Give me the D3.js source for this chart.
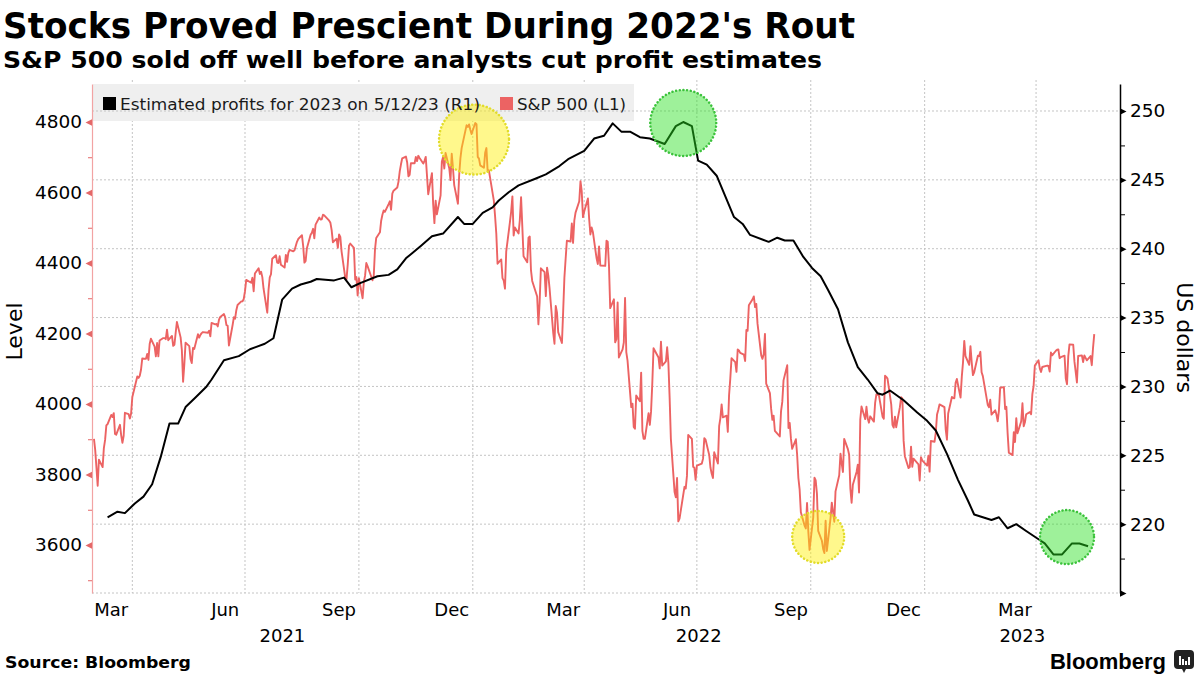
<!DOCTYPE html>
<html><head><meta charset="utf-8">
<script src="https://cdn.jsdelivr.net/npm/d3@7"></script>
<style>body{margin:0;background:#fff}svg{display:block}</style>
</head><body><svg id="chart" width="1200" height="675"></svg>
<script>
const titleText = "Stocks Proved Prescient During 2022's Rout";
const subtitleText = "S&P 500 sold off well before analysts cut profit estimates";
const sourceText = "Source: Bloomberg";
const seriesNames = ["Estimated profits for 2023 on 5/12/23 (R1)", "S&P 500 (L1)"];
const leftAxisTitle = "Level";
const rightAxisTitle = "US dollars";
const leftTicks = [3600, 3800, 4000, 4200, 4400, 4600, 4800];
const leftMinorTicks = [3500, 3700, 3900, 4100, 4300, 4500, 4700];
const rightTicks = [215, 220, 225, 230, 235, 240, 245, 250];
const rightMinorTicks = [217.5, 222.5, 227.5, 232.5, 237.5, 242.5, 247.5];
const monthTickDates = ["2021-03-15","2021-06-15","2021-09-15","2021-12-15","2022-03-15","2022-06-15","2022-09-15","2022-12-15","2023-03-15"];
const monthLabels = ["Mar","Jun","Sep","Dec","Mar","Jun","Sep","Dec","Mar"];
const yearLabels = ["2021","2022","2023"];

// S&P 500 (left axis)
const spx = [
["2021-03-01",3901],["2021-03-02",3870],["2021-03-03",3820],["2021-03-04",3768],["2021-03-05",3842],["2021-03-08",3821],["2021-03-09",3875],["2021-03-10",3898],["2021-03-11",3939],["2021-03-12",3943],["2021-03-15",3969],["2021-03-16",3963],["2021-03-17",3974],["2021-03-18",3915],["2021-03-19",3913],["2021-03-22",3941],["2021-03-23",3911],["2021-03-24",3890],["2021-03-25",3910],["2021-03-26",3975],["2021-03-29",3971],["2021-03-30",3959],["2021-03-31",3973],
["2021-04-01",4020],["2021-04-05",4078],["2021-04-06",4074],["2021-04-07",4080],["2021-04-08",4097],["2021-04-09",4129],["2021-04-12",4128],["2021-04-13",4142],["2021-04-14",4125],["2021-04-15",4170],["2021-04-16",4185],["2021-04-19",4163],["2021-04-20",4135],["2021-04-21",4173],["2021-04-22",4135],["2021-04-23",4180],["2021-04-26",4187],["2021-04-27",4187],["2021-04-28",4184],["2021-04-29",4211],["2021-04-30",4181],
["2021-05-03",4193],["2021-05-04",4165],["2021-05-05",4168],["2021-05-06",4202],["2021-05-07",4233],["2021-05-10",4189],["2021-05-11",4153],["2021-05-12",4063],["2021-05-13",4113],["2021-05-14",4174],["2021-05-17",4164],["2021-05-18",4128],["2021-05-19",4116],["2021-05-20",4159],["2021-05-21",4156],["2021-05-24",4198],["2021-05-25",4188],["2021-05-26",4196],["2021-05-27",4201],["2021-05-28",4204],
["2021-06-01",4202],["2021-06-02",4208],["2021-06-03",4192],["2021-06-04",4230],["2021-06-07",4226],["2021-06-08",4227],["2021-06-09",4220],["2021-06-10",4239],["2021-06-11",4247],["2021-06-14",4255],["2021-06-15",4246],["2021-06-16",4224],["2021-06-17",4222],["2021-06-18",4166],["2021-06-21",4224],["2021-06-22",4246],["2021-06-23",4242],["2021-06-24",4266],["2021-06-25",4281],["2021-06-28",4291],["2021-06-29",4291],["2021-06-30",4298],
["2021-07-01",4320],["2021-07-02",4352],["2021-07-06",4344],["2021-07-07",4358],["2021-07-08",4320],["2021-07-09",4370],["2021-07-12",4385],["2021-07-13",4369],["2021-07-14",4375],["2021-07-15",4360],["2021-07-16",4327],["2021-07-19",4259],["2021-07-20",4323],["2021-07-21",4359],["2021-07-22",4368],["2021-07-23",4412],["2021-07-26",4422],["2021-07-27",4401],["2021-07-28",4400],["2021-07-29",4419],["2021-07-30",4395],
["2021-08-02",4387],["2021-08-03",4423],["2021-08-04",4403],["2021-08-05",4429],["2021-08-06",4437],["2021-08-09",4433],["2021-08-10",4436],["2021-08-11",4448],["2021-08-12",4460],["2021-08-13",4468],["2021-08-16",4479],["2021-08-17",4448],["2021-08-18",4401],["2021-08-19",4406],["2021-08-20",4442],["2021-08-23",4480],["2021-08-24",4486],["2021-08-25",4497],["2021-08-26",4470],["2021-08-27",4509],["2021-08-30",4529],["2021-08-31",4523],
["2021-09-01",4524],["2021-09-02",4537],["2021-09-03",4535],["2021-09-07",4520],["2021-09-08",4514],["2021-09-09",4493],["2021-09-10",4459],["2021-09-13",4469],["2021-09-14",4443],["2021-09-15",4481],["2021-09-16",4474],["2021-09-17",4433],["2021-09-20",4358],["2021-09-21",4354],["2021-09-22",4396],["2021-09-23",4449],["2021-09-24",4455],["2021-09-27",4443],["2021-09-28",4353],["2021-09-29",4360],["2021-09-30",4308],
["2021-10-01",4357],["2021-10-04",4300],["2021-10-05",4346],["2021-10-06",4364],["2021-10-07",4400],["2021-10-08",4391],["2021-10-11",4361],["2021-10-12",4351],["2021-10-13",4364],["2021-10-14",4438],["2021-10-15",4471],["2021-10-18",4487],["2021-10-19",4520],["2021-10-20",4537],["2021-10-21",4549],["2021-10-22",4545],["2021-10-25",4567],["2021-10-26",4575],["2021-10-27",4551],["2021-10-28",4597],["2021-10-29",4605],
["2021-11-01",4614],["2021-11-02",4631],["2021-11-03",4660],["2021-11-04",4680],["2021-11-05",4697],["2021-11-08",4702],["2021-11-09",4685],["2021-11-10",4646],["2021-11-11",4650],["2021-11-12",4683],["2021-11-15",4683],["2021-11-16",4701],["2021-11-17",4689],["2021-11-18",4704],["2021-11-19",4698],["2021-11-22",4682],["2021-11-23",4690],["2021-11-24",4701],["2021-11-26",4595],["2021-11-29",4655],["2021-11-30",4567],
["2021-12-01",4513],["2021-12-02",4577],["2021-12-03",4538],["2021-12-06",4592],["2021-12-07",4687],["2021-12-08",4701],["2021-12-09",4668],["2021-12-10",4712],["2021-12-13",4669],["2021-12-14",4635],["2021-12-15",4710],["2021-12-16",4669],["2021-12-17",4621],["2021-12-20",4568],["2021-12-21",4649],["2021-12-22",4697],["2021-12-23",4726],["2021-12-27",4791],["2021-12-28",4786],["2021-12-29",4793],["2021-12-30",4778],["2021-12-31",4766],
["2022-01-03",4797],["2022-01-04",4794],["2022-01-05",4701],["2022-01-06",4696],["2022-01-07",4677],["2022-01-10",4670],["2022-01-11",4713],["2022-01-12",4726],["2022-01-13",4660],["2022-01-14",4663],["2022-01-18",4577],["2022-01-19",4533],["2022-01-20",4483],["2022-01-21",4398],["2022-01-24",4410],["2022-01-25",4357],["2022-01-26",4350],["2022-01-27",4327],["2022-01-28",4432],["2022-01-31",4516],
["2022-02-01",4546],["2022-02-02",4589],["2022-02-03",4478],["2022-02-04",4501],["2022-02-07",4484],["2022-02-08",4522],["2022-02-09",4587],["2022-02-10",4504],["2022-02-11",4419],["2022-02-14",4402],["2022-02-15",4472],["2022-02-16",4475],["2022-02-17",4380],["2022-02-18",4349],["2022-02-22",4305],["2022-02-23",4226],["2022-02-24",4288],["2022-02-25",4385],["2022-02-28",4374],
["2022-03-01",4306],["2022-03-02",4387],["2022-03-03",4364],["2022-03-04",4329],["2022-03-07",4201],["2022-03-08",4171],["2022-03-09",4278],["2022-03-10",4260],["2022-03-11",4204],["2022-03-14",4173],["2022-03-15",4262],["2022-03-16",4358],["2022-03-17",4412],["2022-03-18",4463],["2022-03-21",4461],["2022-03-22",4512],["2022-03-23",4457],["2022-03-24",4520],["2022-03-25",4543],["2022-03-28",4575],["2022-03-29",4632],["2022-03-30",4603],["2022-03-31",4530],
["2022-04-01",4546],["2022-04-04",4583],["2022-04-05",4525],["2022-04-06",4481],["2022-04-07",4501],["2022-04-08",4488],["2022-04-11",4413],["2022-04-12",4397],["2022-04-13",4447],["2022-04-14",4393],["2022-04-18",4392],["2022-04-19",4463],["2022-04-20",4460],["2022-04-21",4394],["2022-04-22",4272],["2022-04-25",4297],["2022-04-26",4175],["2022-04-27",4184],["2022-04-28",4288],["2022-04-29",4132],
["2022-05-02",4155],["2022-05-03",4175],["2022-05-04",4301],["2022-05-05",4147],["2022-05-06",4123],["2022-05-09",3991],["2022-05-10",4001],["2022-05-11",3935],["2022-05-12",3930],["2022-05-13",4024],["2022-05-16",4008],["2022-05-17",4089],["2022-05-18",3924],["2022-05-19",3901],["2022-05-20",3901],["2022-05-23",3974],["2022-05-24",3941],["2022-05-25",3979],["2022-05-26",4058],["2022-05-27",4158],["2022-05-31",4132],
["2022-06-01",4101],["2022-06-02",4177],["2022-06-03",4109],["2022-06-06",4121],["2022-06-07",4161],["2022-06-08",4116],["2022-06-09",4018],["2022-06-10",3901],["2022-06-13",3750],["2022-06-14",3735],["2022-06-15",3790],["2022-06-16",3667],["2022-06-17",3675],["2022-06-21",3765],["2022-06-22",3760],["2022-06-23",3796],["2022-06-24",3912],["2022-06-27",3901],["2022-06-28",3822],["2022-06-29",3819],["2022-06-30",3785],
["2022-07-01",3825],["2022-07-05",3831],["2022-07-06",3845],["2022-07-07",3903],["2022-07-08",3899],["2022-07-11",3855],["2022-07-12",3819],["2022-07-13",3802],["2022-07-14",3790],["2022-07-15",3863],["2022-07-18",3831],["2022-07-19",3937],["2022-07-20",3960],["2022-07-21",3999],["2022-07-22",3962],["2022-07-25",3967],["2022-07-26",3921],["2022-07-27",4024],["2022-07-28",4072],["2022-07-29",4130],
["2022-08-01",4119],["2022-08-02",4091],["2022-08-03",4155],["2022-08-04",4152],["2022-08-05",4145],["2022-08-08",4140],["2022-08-09",4122],["2022-08-10",4210],["2022-08-11",4208],["2022-08-12",4280],["2022-08-15",4297],["2022-08-16",4305],["2022-08-17",4275],["2022-08-18",4284],["2022-08-19",4228],["2022-08-22",4138],["2022-08-23",4128],["2022-08-24",4141],["2022-08-25",4199],["2022-08-26",4058],["2022-08-29",4031],["2022-08-30",3986],["2022-08-31",3955],
["2022-09-01",3967],["2022-09-02",3924],["2022-09-06",3908],["2022-09-07",3980],["2022-09-08",4006],["2022-09-09",4067],["2022-09-12",4110],["2022-09-13",3932],["2022-09-14",3946],["2022-09-15",3901],["2022-09-16",3873],["2022-09-19",3900],["2022-09-20",3856],["2022-09-21",3790],["2022-09-22",3758],["2022-09-23",3693],["2022-09-26",3655],["2022-09-27",3647],["2022-09-28",3719],["2022-09-29",3640],["2022-09-30",3586],
["2022-10-03",3678],["2022-10-04",3791],["2022-10-05",3783],["2022-10-06",3745],["2022-10-07",3640],["2022-10-10",3612],["2022-10-11",3589],["2022-10-12",3577],["2022-10-13",3669],["2022-10-14",3583],["2022-10-17",3677],["2022-10-18",3720],["2022-10-19",3695],["2022-10-20",3666],["2022-10-21",3752],["2022-10-24",3798],["2022-10-25",3859],["2022-10-26",3831],["2022-10-27",3807],["2022-10-28",3901],["2022-10-31",3872],
["2022-11-01",3856],["2022-11-02",3760],["2022-11-03",3720],["2022-11-04",3771],["2022-11-07",3807],["2022-11-08",3828],["2022-11-09",3749],["2022-11-10",3956],["2022-11-11",3993],["2022-11-14",3957],["2022-11-15",3992],["2022-11-16",3959],["2022-11-17",3947],["2022-11-18",3965],["2022-11-21",3950],["2022-11-22",4003],["2022-11-23",4027],["2022-11-25",4026],["2022-11-28",3964],["2022-11-29",3958],["2022-11-30",4080],
["2022-12-01",4077],["2022-12-02",4072],["2022-12-05",3999],["2022-12-06",3941],["2022-12-07",3933],["2022-12-08",3964],["2022-12-09",3934],["2022-12-12",3991],["2022-12-13",4019],["2022-12-14",4016],["2022-12-15",3896],["2022-12-16",3852],["2022-12-19",3818],["2022-12-20",3821],["2022-12-21",3879],["2022-12-22",3822],["2022-12-23",3845],["2022-12-27",3829],["2022-12-28",3783],["2022-12-29",3849],["2022-12-30",3840],
["2023-01-03",3825],["2023-01-04",3853],["2023-01-05",3808],["2023-01-06",3895],["2023-01-09",3893],["2023-01-10",3919],["2023-01-11",3970],["2023-01-12",3983],["2023-01-13",3999],["2023-01-17",3991],["2023-01-18",3928],["2023-01-19",3899],["2023-01-20",3973],["2023-01-23",4020],["2023-01-24",4017],["2023-01-25",4016],["2023-01-26",4060],["2023-01-27",4071],["2023-01-30",4018],["2023-01-31",4077],
["2023-02-01",4119],["2023-02-02",4179],["2023-02-03",4136],["2023-02-06",4111],["2023-02-07",4164],["2023-02-08",4118],["2023-02-09",4082],["2023-02-10",4090],["2023-02-13",4137],["2023-02-14",4136],["2023-02-15",4148],["2023-02-16",4090],["2023-02-17",4079],["2023-02-21",3997],["2023-02-22",3991],["2023-02-23",4012],["2023-02-24",3970],["2023-02-27",3982],["2023-02-28",3970],
["2023-03-01",3951],["2023-03-02",3981],["2023-03-03",4046],["2023-03-06",4048],["2023-03-07",3986],["2023-03-08",3992],["2023-03-09",3918],["2023-03-10",3862],["2023-03-13",3855],["2023-03-14",3920],["2023-03-15",3892],["2023-03-16",3960],["2023-03-17",3917],["2023-03-20",3951],["2023-03-21",4002],["2023-03-22",3937],["2023-03-23",3948],["2023-03-24",3971],["2023-03-27",3977],["2023-03-28",3971],["2023-03-29",4028],["2023-03-30",4051],["2023-03-31",4109],
["2023-04-03",4124],["2023-04-04",4101],["2023-04-05",4091],["2023-04-06",4105],["2023-04-10",4109],["2023-04-11",4108],["2023-04-12",4092],["2023-04-13",4146],["2023-04-14",4138],["2023-04-17",4151],["2023-04-18",4154],["2023-04-19",4155],["2023-04-20",4130],["2023-04-21",4133],["2023-04-24",4137],["2023-04-25",4072],["2023-04-26",4056],["2023-04-27",4135],["2023-04-28",4169],
["2023-05-01",4168],["2023-05-02",4120],["2023-05-03",4091],["2023-05-04",4061],["2023-05-05",4136],["2023-05-08",4138],["2023-05-09",4119],["2023-05-10",4138],["2023-05-11",4131],["2023-05-12",4124],["2023-05-15",4136],["2023-05-16",4110],["2023-05-17",4159],["2023-05-18",4198]
];

// Estimated 2023 profits (right axis)
const profits = [
["2021-03-12",220.5],["2021-03-20",220.9],["2021-03-26",220.8],["2021-04-03",221.5],["2021-04-10",222.0],["2021-04-17",222.9],["2021-04-24",224.9],["2021-05-01",227.3],["2021-05-08",227.3],["2021-05-14",228.5],["2021-05-22",229.2],["2021-05-31",230.0],["2021-06-04",230.5],["2021-06-14",231.9],["2021-06-26",232.2],["2021-07-05",232.7],["2021-07-17",233.1],["2021-07-24",233.5],["2021-07-31",236.3],["2021-08-08",237.1],["2021-08-15",237.4],["2021-08-23",237.6],["2021-08-28",237.8],["2021-09-11",237.7],["2021-09-19",237.9],["2021-09-25",237.2],["2021-10-02",237.5],["2021-10-16",238.0],["2021-10-25",238.1],["2021-11-01",238.5],["2021-11-08",239.3],["2021-11-12",239.6],["2021-11-20",240.2],["2021-11-29",240.9],["2021-12-08",241.1],["2021-12-20",242.3],["2021-12-25",241.8],["2022-01-01",241.8],["2022-01-09",242.6],["2022-01-17",243.0],["2022-01-22",243.5],["2022-01-30",244.1],["2022-02-07",244.6],["2022-02-21",245.1],["2022-03-01",245.4],["2022-03-12",246.0],["2022-03-19",246.5],["2022-04-01",247.1],["2022-04-09",248.0],["2022-04-17",248.2],["2022-04-24",249.1],["2022-05-01",248.5],["2022-05-08",248.5],["2022-05-16",248.1],["2022-05-24",248.0],["2022-06-05",247.6],["2022-06-14",248.9],["2022-06-20",249.2],["2022-06-27",248.9],["2022-07-02",246.4],["2022-07-09",246.1],["2022-07-17",245.3],["2022-07-24",243.8],["2022-07-31",242.3],["2022-08-07",241.8],["2022-08-13",241.0],["2022-08-28",240.5],["2022-09-04",240.8],["2022-09-10",240.6],["2022-09-17",240.6],["2022-09-25",239.4],["2022-10-02",238.6],["2022-10-09",238.0],["2022-10-15",237.0],["2022-10-23",235.6],["2022-10-31",233.2],["2022-11-08",231.4],["2022-11-16",230.5],["2022-11-24",229.5],["2022-11-28",229.4],["2022-12-04",229.7],["2022-12-15",229.0],["2022-12-26",228.1],["2023-01-03",227.5],["2023-01-10",226.8],["2023-01-19",225.1],["2023-01-28",223.2],["2023-02-05",221.7],["2023-02-10",220.7],["2023-02-17",220.5],["2023-02-24",220.3],["2023-03-02",220.5],["2023-03-09",219.7],["2023-03-16",220.0],["2023-03-24",219.5],["2023-04-03",218.9],["2023-04-08",218.6],["2023-04-15",217.8],["2023-04-22",217.8],["2023-04-30",218.6],["2023-05-06",218.6],["2023-05-13",218.4]
];

// Highlight circles
const highlightDates = ["2022-01-02","2022-06-20","2022-10-07","2023-04-26"];
const highlightValues = [4750, 249.13, 3623, 219.06];
const highlightAxes = ["L","R","L","R"];
const highlightKinds = ["yellow","green","yellow","green"];

// ---- layout ----
const W = 1200, H = 675;
const plotL = 92, plotR = 1120, plotT = 84, plotB = 593;
const parse = d3.utcParse("%Y-%m-%d");
const font = "'DejaVu Sans', Verdana, sans-serif";
const redCol = "#ec6363";

const svg = d3.select("#chart");
svg.append("rect").attr("width",W).attr("height",H).attr("fill","#fff");

const x = d3.scaleUtc()
  .domain([new Date(Date.UTC(2021,1,27,10)), new Date(Date.UTC(2023,5,7,19))])
  .range([plotL, plotR]);
const yL = d3.scaleLinear().domain([3463.8, 4907.8]).range([plotB, plotT]);
const yR = d3.scaleLinear().domain([215, 251.96]).range([plotB, plotT]);

// titles
svg.append("text").attr("x",3).attr("y",38).attr("font-family",font).attr("font-weight","bold")
  .attr("font-size",36).attr("textLength",852).attr("lengthAdjust","spacingAndGlyphs").attr("fill","#000").text(titleText);
svg.append("text").attr("x",3).attr("y",68).attr("font-family",font).attr("font-weight","bold")
  .attr("font-size",23).attr("textLength",819).attr("lengthAdjust","spacingAndGlyphs").attr("fill","#000").text(subtitleText);

// vertical gridlines (quarter starts)
const qStarts = d3.utcMonth.every(3).range(x.domain()[0], x.domain()[1]);
svg.append("g").selectAll("line").data(qStarts).join("line")
  .attr("x1",d=>x(d)).attr("x2",d=>x(d)).attr("y1",plotT-4).attr("y2",plotB)
  .attr("stroke","#c4c4c4").attr("stroke-width",1).attr("stroke-dasharray","2,2");

// legend background
svg.append("rect").attr("x",93).attr("y",84).attr("width",541).attr("height",37).attr("fill","#efefef");

// horizontal gridlines (right axis)
svg.append("g").selectAll("line").data(rightTicks).join("line")
  .attr("x1",plotL).attr("x2",plotR).attr("y1",d=>yR(d)).attr("y2",d=>yR(d))
  .attr("stroke","#c4c4c4").attr("stroke-width",1).attr("stroke-dasharray","2,2");

// lines
const spxData = spx.map(d=>({date:parse(d[0]), v:d[1]}));
const profData = profits.map(d=>({date:parse(d[0]), v:d[1]}));
svg.append("path").datum(spxData)
  .attr("d", d3.line().x(d=>x(d.date)).y(d=>yL(d.v)))
  .attr("fill","none").attr("stroke",redCol).attr("stroke-width",1.9).attr("stroke-linejoin","round");
svg.append("path").datum(profData)
  .attr("d", d3.line().x(d=>x(d.date)).y(d=>yR(d.v)))
  .attr("fill","none").attr("stroke","#000").attr("stroke-width",2).attr("stroke-linejoin","round");

// highlight circles
const hlStyle = {
  yellow:{fill:"rgba(255,240,0,0.45)", stroke:"#e2dc2a"},
  green:{fill:"rgba(40,225,30,0.45)", stroke:"#3cc23c"}
};
const hlRadius = [35, 33, 26, 27];
highlightDates.forEach((dt,i)=>{
  const cy = highlightAxes[i]==="L" ? yL(highlightValues[i]) : yR(highlightValues[i]);
  const st = hlStyle[highlightKinds[i]];
  svg.append("circle").attr("cx",x(parse(dt))).attr("cy",cy).attr("r",hlRadius[i])
    .attr("fill",st.fill).attr("stroke",st.stroke).attr("stroke-width",2.5)
    .attr("stroke-dasharray","0.1,3.6").attr("stroke-linecap","round");
});

// left axis
const gL = svg.append("g").attr("transform",`translate(${plotL},0)`);
gL.call(d3.axisLeft(yL).tickValues(leftTicks).tickSize(0).tickSizeOuter(0).tickPadding(10).tickFormat(d3.format("d")));
gL.select(".domain").attr("stroke","#f2a3a3").attr("stroke-width",1.2);
gL.selectAll(".tick").append("path").attr("d","M0,-3.2L-6.5,0L0,3.2Z").attr("fill","#e46868");
gL.selectAll(".tick text").attr("font-family",font).attr("font-size",18.5).attr("fill","#000");
const gLm = svg.append("g").attr("transform",`translate(${plotL},0)`);
gLm.call(d3.axisLeft(yL).tickValues(leftMinorTicks).tickSize(4).tickSizeOuter(0).tickFormat(""));
gLm.select(".domain").remove();
gLm.selectAll(".tick line").attr("stroke","#e46868");

// right axis (bottom tick unlabeled)
const gR = svg.append("g").attr("transform",`translate(${plotR},0)`);
gR.call(d3.axisRight(yR).tickValues(rightTicks).tickSize(0).tickSizeOuter(0).tickPadding(10)
  .tickFormat(d=> d===rightTicks[0] ? "" : d3.format("d")(d)));
gR.select(".domain").attr("stroke","#000").attr("stroke-width",1.5);
gR.selectAll(".tick").append("path").attr("d","M0,-3.2L6.5,0L0,3.2Z").attr("fill","#000");
gR.selectAll(".tick text").attr("font-family",font).attr("font-size",18.5).attr("fill","#000");
const gRm = svg.append("g").attr("transform",`translate(${plotR},0)`);
gRm.call(d3.axisRight(yR).tickValues(rightMinorTicks).tickSize(5).tickSizeOuter(0).tickFormat(""));
gRm.select(".domain").remove();
gRm.selectAll(".tick line").attr("stroke","#000");

// axis titles
svg.append("text").attr("transform",`translate(22,${(plotT+plotB)/2-7}) rotate(-90)`)
  .attr("text-anchor","middle").attr("font-family",font).attr("font-size",22).attr("fill","#000").text(leftAxisTitle);
svg.append("text").attr("transform",`translate(1177,${(plotT+plotB)/2-1}) rotate(90)`)
  .attr("text-anchor","middle").attr("font-family",font).attr("font-size",22).attr("fill","#000").text(rightAxisTitle);

// x labels
svg.append("g").selectAll("text").data(monthTickDates).join("text")
  .attr("x",d=>x(parse(d))).attr("y",616).attr("text-anchor","middle")
  .attr("font-family",font).attr("font-size",18).attr("fill","#000")
  .text((d,i)=>monthLabels[i]);
const [d0,d1] = x.domain();
svg.append("g").selectAll("text").data(yearLabels).join("text")
  .attr("x",y=>{
    const s = new Date(Math.max(Date.UTC(+y,0,1), d0));
    const e = new Date(Math.min(Date.UTC(+y+1,0,1), d1));
    return x(new Date((+s + +e)/2));
  })
  .attr("y",642).attr("text-anchor","middle")
  .attr("font-family",font).attr("font-size",18).attr("fill","#000").text(d=>d);

// legend
const legendX = [103, 500];
const legendTextLen = [360, 109];
const legendCols = ["#000", redCol];
seriesNames.forEach((n,i)=>{
  svg.append("rect").attr("x",legendX[i]).attr("y",97).attr("width",13).attr("height",13).attr("fill",legendCols[i]);
  svg.append("text").attr("x",legendX[i]+17).attr("y",110).attr("font-family",font)
    .attr("font-size",16.5).attr("textLength",legendTextLen[i]).attr("lengthAdjust","spacingAndGlyphs")
    .attr("fill","#1a1a1a").text(n);
});

// footer
svg.append("text").attr("x",5).attr("y",668).attr("font-family",font).attr("font-weight","bold")
  .attr("font-size",16.5).attr("textLength",186).attr("lengthAdjust","spacingAndGlyphs").attr("fill","#000").text(sourceText);
svg.append("text").attr("x",1166).attr("y",669).attr("text-anchor","end")
  .attr("font-family","'Liberation Sans', Arial, sans-serif").attr("font-weight","bold")
  .attr("font-size",22).attr("fill","#000").text("Bloomberg");
const icon = svg.append("g").attr("transform","translate(1174,650)");
icon.append("rect").attr("width",20).attr("height",19).attr("rx",4).attr("fill","#222");
icon.append("path").attr("d","M8,19L10,23L12,19Z").attr("fill","#222");
[[5,9],[8,6],[11,4],[14,8]].forEach(([bx,bh])=>{
  icon.append("rect").attr("x",bx).attr("y",15-bh).attr("width",2).attr("height",bh).attr("fill","#fff");
});
</script></body></html>
